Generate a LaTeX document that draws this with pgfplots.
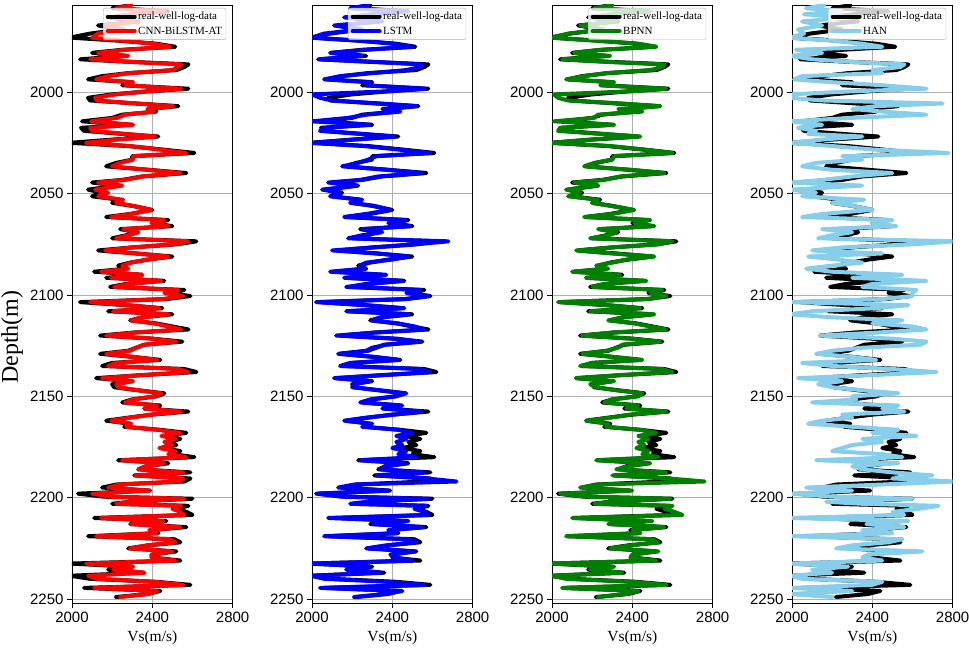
\documentclass[border=0pt]{standalone}
\usepackage{pgfplots}
\pgfplotsset{compat=1.18}
\usepackage{pgfplotstable}
\usepackage{fontspec}
\setmainfont{Liberation Serif}
\newfontfamily\ticksans{Liberation Sans}
\definecolor{hanblue}{RGB}{135,206,235}
\definecolor{gridgray}{RGB}{176,176,176}
\definecolor{mplgreen}{RGB}{0,128,0}

\pgfplotstableread{
d      R     C     L     B     H
1957   2290  2295  2280  2300  2160
1958.5 2200  2220  2190  2210  2070
1960   2480  2460  2470  2490  2250
1961.5 2300  2305  2320  2290  2060
1963   2180  2205  2160  2190  2300
1965   2330  2330  2350  2320  2050
1967   2130  2165  2110  2140  2150
1969   2250  2260  2240  2260  2030
1971   2090  2130  2060  2080  2060
1973   1990  2100  2000  2000  1990
1974.5 2230  2250  2240  2220  2200
1976   2420  2405  2400  2430  2350
1977.5 2515  2490  2500  2520  2450
1979   2250  2265  2270  2240  2020
1980.5 2100  2130  2090  2110  2150
1982   2270  2280  2250  2290  1990
1983.7 2040  2090  2030  2050  2100
1985   2300  2305  2320  2280  2300
1986.2 2580  2545  2550  2560  2560
1987.5 2560  2530  2540  2550  2540
1989   2520  2500  2470  2490  2400
1990.5 2280  2290  2300  2270  2450
1992   2150  2180  2140  2160  2050
1993.6 2080  2120  2060  2070  2010
1995   2300  2305  2290  2310  2200
1996.5 2250  2265  2270  2240  2450
1998.2 2580  2545  2560  2570  2670
1999.5 2380  2375  2370  2390  2300
2001   2200  2220  2000  2010  1990
2002.7 2080  2115  2040  2030  1990
2004   2090  2125  2100  2080  2150
2005.5 2320  2320  2340  2350  2750
2006.8 2530  2505  2520  2540  2420
2008.2 2380  2375  2350  2330  2300
2009.5 2420  2410  2440  2450  2450
2011   2250  2265  2270  2230  2670
2012.6 2200  2225  2180  2210  2300
2014.3 2050  2095  2000  2010  1990
2016   2300  2305  2290  2310  2150
2017.5 2045  2090  2060  2040  2030
2019   2060  2100  2040  2030  2120
2020.5 2250  2265  2240  2250  2080
2021.8 2430  2415  2410  2440  2350
2023.3 2200  2225  2210  2190  2150
2024.9 1990  2070  2000  2000  1990
2026.5 2280  2290  2260  2290  2200
2028.2 2450  2435  2430  2460  2400
2029.9 2610  2570  2590  2600  2780
2031.5 2300  2305  2320  2310  2250
2033.2 2300  2305  2280  2300  2350
2034.8 2220  2240  2230  2210  2120
2036.5 2170  2200  2150  2160  2050
2038.2 2380  2375  2370  2390  2200
2039.8 2570  2540  2550  2560  2500
2041.5 2350  2350  2330  2340  2300
2043.2 2250  2265  2240  2260  2150
2044.5 2100  2130  2080  2110  1990
2046   2230  2250  2220  2230  2350
2048   2080  2115  2050  2070  1990
2049.5 2150  2180  2140  2140  2120
2051.3 2100  2130  2090  2080  2050
2053   2240  2255  2250  2230  2360
2054.5 2200  2220  2190  2200  2200
2056   2300  2305  2310  2290  2300
2058   2400  2395  2390  2410  2400
2060   2290  2295  2270  2300  2150
2061.5 2170  2195  2160  2160  2050
2063   2480  2460  2470  2490  2500
2064.5 2400  2395  2380  2410  2400
2066   2500  2480  2490  2510  2520
2067.5 2240  2255  2250  2230  2150
2069   2330  2330  2350  2320  2300
2070.5 2270  2280  2250  2280  2200
2072   2200  2220  2180  2190  2130
2073.5 2620  2580  2680  2600  2810
2075   2520  2500  2510  2530  2600
2076.5 2300  2305  2310  2300  2250
2078   2130  2165  2100  2120  2100
2079.5 2320  2320  2330  2300  2450
2081   2500  2480  2480  2510  2080
2082.5 2380  2375  2400  2370  2230
2084   2290  2295  2270  2300  2350
2085.5 2230  2250  2240  2220  2200
2087   2270  2280  2260  2280  2070
2088.5 2110  2145  2090  2100  2200
2090   2350  2350  2370  2340  2550
2091.5 2170  2195  2160  2170  2300
2093   2460  2445  2450  2470  2670
2094.5 2270  2280  2290  2260  2400
2096   2190  2210  2170  2200  2350
2097.5 2560  2530  2540  2550  2620
2099   2480  2460  2470  2490  2600
2100.5 2590  2555  2580  2570  2600
2102   2470  2450  2460  2480  2450
2103.5 2040  2090  2020  2030  1990
2105   2270  2280  2260  2280  2580
2106.5 2450  2435  2460  2440  2420
2108   2180  2205  2170  2190  2100
2109.5 2500  2480  2480  2510  1990
2111   2350  2350  2340  2360  2200
2112.5 2290  2295  2300  2280  2550
2114   2420  2410  2430  2410  2400
2115.5 2500  2480  2510  2490  2600
2117   2580  2545  2560  2570  2670
2118.5 2310  2315  2320  2300  2430
2120   2140  2170  2120  2150  2140
2121.5 2400  2395  2420  2390  2500
2123   2550  2520  2540  2540  2670
2124.5 2360  2360  2370  2350  2640
2126   2320  2320  2300  2330  2350
2127.5 2280  2290  2270  2270  2200
2129   2140  2170  2130  2150  2120
2130.5 2300  2305  2310  2300  2300
2132   2440  2425  2430  2450  2420
2133.5 2200  2220  2190  2200  2050
2135   2150  2180  2140  2140  2200
2136.5 2560  2530  2540  2550  2500
2138   2620  2580  2590  2600  2720
2139.5 2350  2350  2360  2340  2400
2141   2120  2150  2110  2120  2030
2142.5 2300  2305  2290  2310  2250
2144   2200  2220  2210  2190  2130
2145.5 2210  2230  2200  2220  2200
2147   2330  2330  2340  2320  2350
2148.5 2460  2445  2470  2450  2530
2150   2420  2410  2410  2430  2300
2151.5 2300  2305  2290  2300  2320
2153   2250  2265  2240  2260  2100
2154.5 2440  2425  2450  2430  2530
2156   2360  2360  2350  2370  2450
2157.5 2580  2545  2550  2570  2560
2159   2400  2395  2410  2390  2250
2160.5 2280  2290  2270  2290  2300
2162   2170  2195  2160  2170  2150
2163.5 2290  2295  2300  2280  2080
2165   2260  2270  2250  2270  2300
2166.5 2440  2425  2430  2440  2530
2168   2570  2540  2500  2520  2400
2169.5 2460  2445  2420  2430  2620
2171   2540  2515  2470  2480  2350
2172.5 2480  2460  2420  2430  2450
2174   2520  2500  2450  2460  2300
2175.5 2450  2435  2400  2420  2250
2177   2540  2515  2470  2480  2200
2178.5 2500  2480  2430  2450  2450
2180   2610  2570  2520  2530  2550
2181.5 2230  2250  2240  2220  2120
2183   2480  2460  2470  2490  2530
2184.5 2370  2365  2360  2380  2300
2186   2330  2330  2340  2320  2350
2187.5 2590  2555  2560  2570  2500
2189   2310  2315  2320  2300  2700
2190.5 2590  2555  2570  2580  2500
2192   2560  2530  2720  2760  2810
2193.5 2220  2240  2210  2230  2450
2195   2150  2180  2130  2140  2070
2196.5 2390  2385  2380  2400  2300
2198   2030  2100  2020  2040  1990
2199.5 2160  2190  2150  2170  2200
2200.5 2600  2560  2580  2590  2600
2202   2290  2295  2280  2300  2170
2203   2200  2220  2190  2210  2350
2204   2580  2545  2570  2600  2730
2205.5 2520  2500  2510  2560  2630
2207   2570  2540  2560  2610  2500
2208.5 2600  2560  2580  2650  2560
2210   2110  2145  2080  2100  1990
2211.5 2470  2455  2480  2500  2580
2213   2290  2295  2300  2280  2370
2214.5 2570  2540  2550  2560  2560
2216   2390  2385  2380  2400  2350
2217.5 2430  2420  2420  2440  2500
2219   2080  2120  2060  2070  1990
2220.5 2510  2490  2480  2500  2550
2222   2540  2515  2520  2530  2480
2223.5 2380  2375  2370  2390  2300
2225   2280  2290  2270  2290  2220
2226.5 2520  2500  2510  2530  2650
2228   2400  2395  2390  2400  2380
2229.5 2400  2395  2410  2390  2350
2231   2540  2515  2500  2520  2450
2232.5 1990  2070  2000  2000  1990
2234   2300  2305  2290  2310  2280
2235.5 2180  2205  2170  2190  2100
2237   2360  2360  2340  2350  2200
2238.5 1990  2080  2000  2000  1990
2240   2090  2125  2060  2070  2050
2241.5 2420  2410  2380  2400  2450
2243   2590  2555  2560  2570  2400
2244.5 2060  2110  2040  2050  1990
2246   2440  2425  2450  2430  2300
2247.5 2380  2375  2360  2370  1990
2249   2220  2240  2210  2230  2200
}\data

\pgfplotsset{
  panel/.style={
    scale only axis, width=160.6pt, height=598.3pt,
    anchor=south west,
    xmin=2000, xmax=2800, ymin=1956.9, ymax=2252.1, y dir=reverse,
    xtick={2000,2400,2800}, ytick={2000,2050,...,2250},
    grid=major, major grid style={gridgray, line width=0.8pt},
    tick align=outside, tick pos=left,
    major tick length=5pt, tick style={black, line width=0.8pt},
    axis line style={line width=0.8pt},
    ticklabel style={font=\ticksans\fontsize{15}{16}\selectfont},
    /pgf/number format/assume math mode=true,
    /pgf/number format/set thousands separator={},
    xlabel={Vs(m/s)},
    xlabel style={at={(axis description cs:0.5,0)}, anchor=center, yshift=-34pt, font=\fontsize{15.5}{17}\selectfont},
    legend cell align=left,
    legend style={at={(0.96,0.995)}, anchor=north east,
      font=\fontsize{11}{12}\selectfont,
      fill=white, fill opacity=0.8, text opacity=1, draw=gridgray, draw opacity=1,
      rounded corners=2pt, inner sep=2.5pt, row sep=2.5pt,
      nodes={inner sep=1.5pt}},
    legend image code/.code={\draw[#1] (0pt,0pt) -- (27pt,0pt);},
    every axis plot/.append style={line width=4pt, line join=round, line cap=round},
  }
}

\begin{document}
\begin{tikzpicture}
\useasboundingbox (0,0) rectangle (969pt,650pt);

\begin{axis}[panel, at={(72pt,46.7pt)},
  ylabel={Depth(m)},
  ylabel style={at={(axis description cs:-0.3736,0.445)}, anchor=center, font=\fontsize{24}{26}\selectfont}]
\addplot[black] table[x=R, y=d] {\data};
\addlegendentry{real-well-log-data}
\addplot[red] table[x=C, y=d] {\data};
\addlegendentry{CNN-BiLSTM-AT}
\end{axis}

\begin{axis}[panel, at={(312pt,46.7pt)}]
\addplot[black] table[x=R, y=d] {\data};
\addlegendentry{real-well-log-data}
\addplot[blue] table[x=L, y=d] {\data};
\addlegendentry{LSTM}
\end{axis}

\begin{axis}[panel, at={(552pt,46.7pt)}]
\addplot[black] table[x=R, y=d] {\data};
\addlegendentry{real-well-log-data}
\addplot[mplgreen] table[x=B, y=d] {\data};
\addlegendentry{BPNN}
\end{axis}

\begin{axis}[panel, at={(792pt,46.7pt)}]
\addplot[black] table[x=R, y=d] {\data};
\addlegendentry{real-well-log-data}
\addplot[hanblue] table[x=H, y=d] {\data};
\addlegendentry{HAN}
\end{axis}
\end{tikzpicture}
\end{document}
